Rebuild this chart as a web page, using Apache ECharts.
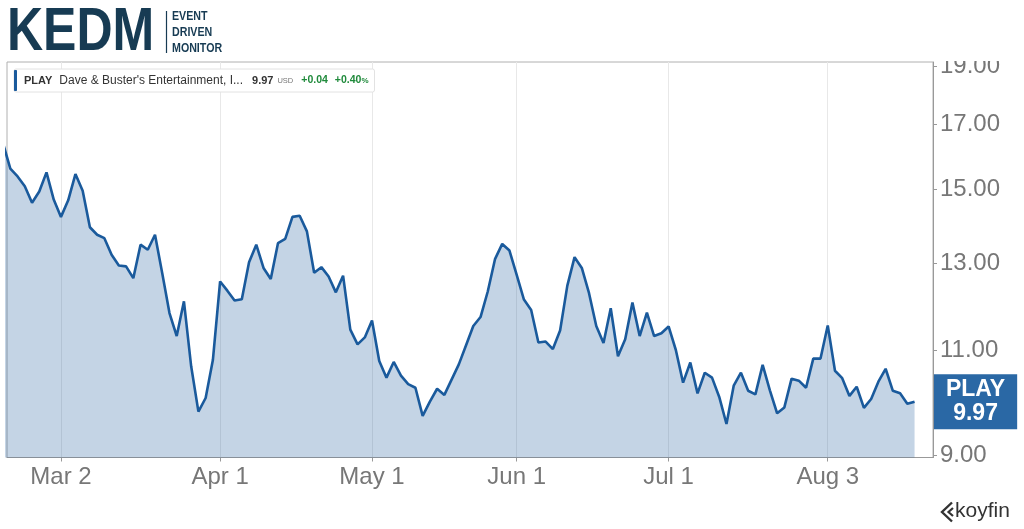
<!DOCTYPE html>
<html>
<head>
<meta charset="utf-8">
<title>PLAY</title>
<script src="https://cdn.jsdelivr.net/npm/echarts@6.0.0/dist/echarts.min.js"></script>
<style>
  html, body { margin: 0; padding: 0; background: #fff; }
  #main { width: 1024px; height: 529px; }
</style>
</head>
<body>
<div id="main"></div>
<script>
// daily closes (first session is Feb 18, last is Aug 19)
var prices = [
  16.37, 15.60, 15.37, 15.08, 14.61, 14.93, 15.49, 14.70, 14.22, 14.68,
  15.44, 14.95, 13.94, 13.74, 13.65, 13.22, 12.95, 12.93, 12.64, 13.48,
  13.35, 13.74, 12.76, 11.82, 11.31, 12.09, 10.67, 9.78, 10.04, 10.80,
  12.56, 12.34, 12.11, 12.14, 13.03, 13.48, 12.89, 12.62, 13.52, 13.63,
  14.22, 14.25, 13.83, 12.77, 12.91, 12.68, 12.30, 12.70, 11.45, 11.13,
  11.28, 11.65, 10.78, 10.44, 10.76, 10.48, 10.31, 10.24, 9.70, 9.97,
  10.22, 10.10, 10.40, 10.71, 11.11, 11.53, 11.73, 12.32, 13.11, 13.50,
  13.33, 12.72, 12.13, 11.89, 11.17, 11.19, 11.03, 11.43, 12.46, 13.16,
  12.89, 12.28, 11.53, 11.16, 11.93, 10.88, 11.24, 12.06, 11.31, 11.83,
  11.31, 11.37, 11.52, 11.01, 10.34, 10.75, 10.13, 10.54, 10.44, 10.06,
  9.55, 10.28, 10.54, 10.18, 10.11, 10.70, 10.19, 9.75, 9.86, 10.42,
  10.38, 10.24, 10.83, 10.83, 11.54, 10.58, 10.43, 10.08, 10.26, 9.85,
  10.02, 10.36, 10.62, 10.18, 10.13, 9.93, 9.97
];
var yTicks = [9, 11, 13, 15, 17, 19];
var holidays = ['2026-04-03', '2026-05-25', '2026-06-19', '2026-07-03'];
var monthNames = ['Jan', 'Feb', 'Mar', 'Apr', 'May', 'Jun', 'Jul', 'Aug', 'Sep', 'Oct', 'Nov', 'Dec'];
var ticker = 'PLAY';
var company = "Dave & Buster's Entertainment, I...";

// trading sessions (weekdays minus market holidays)
var dates = [];
var d = new Date(Date.UTC(2026, 1, 18));
while (dates.length < prices.length) {
    var iso = d.toISOString().slice(0, 10);
    var wd = d.getUTCDay();
    if (wd !== 0 && wd !== 6 && holidays.indexOf(iso) < 0) dates.push(iso);
    d.setUTCDate(d.getUTCDate() + 1);
}
// a label on the first session of every month
var xTicks = [];
for (var i = 1; i < dates.length; i++) {
    if (dates[i].slice(5, 7) !== dates[i - 1].slice(5, 7)) xTicks.push(i);
}

var last = prices[prices.length - 1];
var prev = prices[prices.length - 2];
var chg = last - prev;
var chgText = (chg >= 0 ? '+' : '') + chg.toFixed(2);
var pctText = (chg >= 0 ? '+' : '') + (chg / prev * 100).toFixed(2);

var FONT = '"Liberation Sans", Arial, Helvetica, sans-serif';
var NAVY = '#173b53';
var BLUE = '#1a5a9c';

var myChart = echarts.init(document.getElementById('main'));

var option = {
    animation: false,
    backgroundColor: '#fff',
    textStyle: { fontFamily: FONT },
    grid: {
        left: 7, right: 91, top: 62, bottom: 71.5,
        show: true, borderColor: '#b0b0b0', borderWidth: 1,
        outerBoundsMode: 'none'
    },
    legend: {
        data: [ticker],
        selectedMode: false,
        left: 14, top: 69,
        icon: 'roundRect', itemWidth: 3, itemHeight: 21,
        padding: [1, 6, 1, 0],
        backgroundColor: '#fff', borderColor: '#e2e2e2', borderWidth: 1, borderRadius: 2,
        formatter: function (name) {
            return '{t|' + name + '}{n|' + company + '}{p|' + last.toFixed(2) + '}{u|USD}' +
                '{g|' + chgText + '}{h|' + pctText + '}{s|%}';
        },
        textStyle: {
            fontFamily: FONT,
            rich: {
                t: { fontFamily: FONT, fontSize: 11, fontWeight: 'bold', color: '#333', padding: [0, 0, 0, 2] },
                n: { fontFamily: FONT, fontSize: 12, color: '#333', padding: [0, 0, 0, 7] },
                p: { fontFamily: FONT, fontSize: 11, fontWeight: 'bold', color: '#333', padding: [0, 0, 0, 9] },
                u: { fontFamily: FONT, fontSize: 7.5, color: '#777', padding: [1, 0, 0, 4] },
                g: { fontFamily: FONT, fontSize: 10.5, fontWeight: 'bold', color: '#1f8a3b', padding: [0, 0, 0, 8] },
                h: { fontFamily: FONT, fontSize: 10.5, fontWeight: 'bold', color: '#1f8a3b', padding: [0, 0, 0, 7] },
                s: { fontFamily: FONT, fontSize: 8, fontWeight: 'bold', color: '#1f8a3b', padding: [1, 0, 0, 0] }
            }
        }
    },
    xAxis: {
        type: 'value',
        min: 0.54, max: 128.55,
        axisLine: { show: true, lineStyle: { color: '#999' } },
        axisTick: { show: true, length: 4, customValues: xTicks, lineStyle: { color: '#999' } },
        splitLine: { show: true, lineStyle: { color: '#e8e8e8' } },
        axisLabel: {
            customValues: xTicks,
            fontSize: 24, color: '#777', margin: 8,
            formatter: function (v) {
                var s = dates[Math.round(v)];
                return monthNames[+s.slice(5, 7) - 1] + ' ' + (+s.slice(8, 10));
            }
        }
    },
    // log price scale: the axis works on ln(price)
    yAxis: {
        type: 'value',
        position: 'right',
        min: Math.log(8.955), max: Math.log(19.15),
        axisLine: { show: true, lineStyle: { color: '#999' } },
        axisTick: { show: true, length: 4, customValues: yTicks.map(Math.log), lineStyle: { color: '#999' } },
        splitLine: { show: false },
        axisLabel: {
            customValues: yTicks.map(Math.log),
            fontSize: 24, color: '#777', margin: 7,
            formatter: function (v) { return Math.exp(v).toFixed(2); }
        }
    },
    series: [
        {
            name: ticker,
            type: 'line',
            data: prices.map(function (p, i) { return [i, Math.log(p)]; }),
            showSymbol: false,
            clip: true,
            lineStyle: { color: BLUE, width: 2.6 },
            itemStyle: { color: BLUE },
            areaStyle: { color: BLUE, opacity: 0.26 },
            endLabel: {
                show: true,
                distance: 0,
                align: 'center',
                offset: [61, 0],
                formatter: function () { return ticker + '\n' + last.toFixed(2); },
                backgroundColor: '#2a68a5',
                color: '#fff',
                fontFamily: FONT,
                fontSize: 23,
                fontWeight: 'bold',
                lineHeight: 24,
                padding: [4, 12, 3, 12]
            }
        }
    ],
    graphic: [
        // hides the part of the top label that runs above the chart box
        { type: 'rect', x: 934, y: 0, z: 100, shape: { width: 90, height: 61 }, style: { fill: '#fff' } },
        { type: 'text', x: 7, y: 33, scaleX: 0.82, z: 100,
          style: { text: 'KEDM', font: 'bold 61px ' + FONT, fill: NAVY, align: 'left', verticalAlign: 'middle' } },
        { type: 'line', z: 100, shape: { x1: 166.5, y1: 11, x2: 166.5, y2: 53 }, style: { stroke: NAVY, lineWidth: 1.2 } },
        { type: 'text', x: 172, y: 16, scaleX: 0.82, z: 100,
          style: { text: 'EVENT', font: 'bold 13px ' + FONT, fill: NAVY, align: 'left', verticalAlign: 'middle' } },
        { type: 'text', x: 172, y: 32, scaleX: 0.82, z: 100,
          style: { text: 'DRIVEN', font: 'bold 13px ' + FONT, fill: NAVY, align: 'left', verticalAlign: 'middle' } },
        { type: 'text', x: 172, y: 48, scaleX: 0.82, z: 100,
          style: { text: 'MONITOR', font: 'bold 13px ' + FONT, fill: NAVY, align: 'left', verticalAlign: 'middle' } },
        // koyfin mark
        { type: 'polyline', z: 100, shape: { points: [[952, 502.5], [942, 512], [952, 521.5]] },
          style: { stroke: '#333', lineWidth: 2.4, fill: null } },
        { type: 'polyline', z: 100, shape: { points: [[953, 508], [948.5, 512], [953, 516]] },
          style: { stroke: '#333', lineWidth: 2.2, fill: null } },
        { type: 'text', x: 955, y: 511, z: 100,
          style: { text: 'koyfin', font: '21px ' + FONT, fill: '#333', align: 'left', verticalAlign: 'middle' } }
    ]
};

myChart.setOption(option);
</script>
</body>
</html>
